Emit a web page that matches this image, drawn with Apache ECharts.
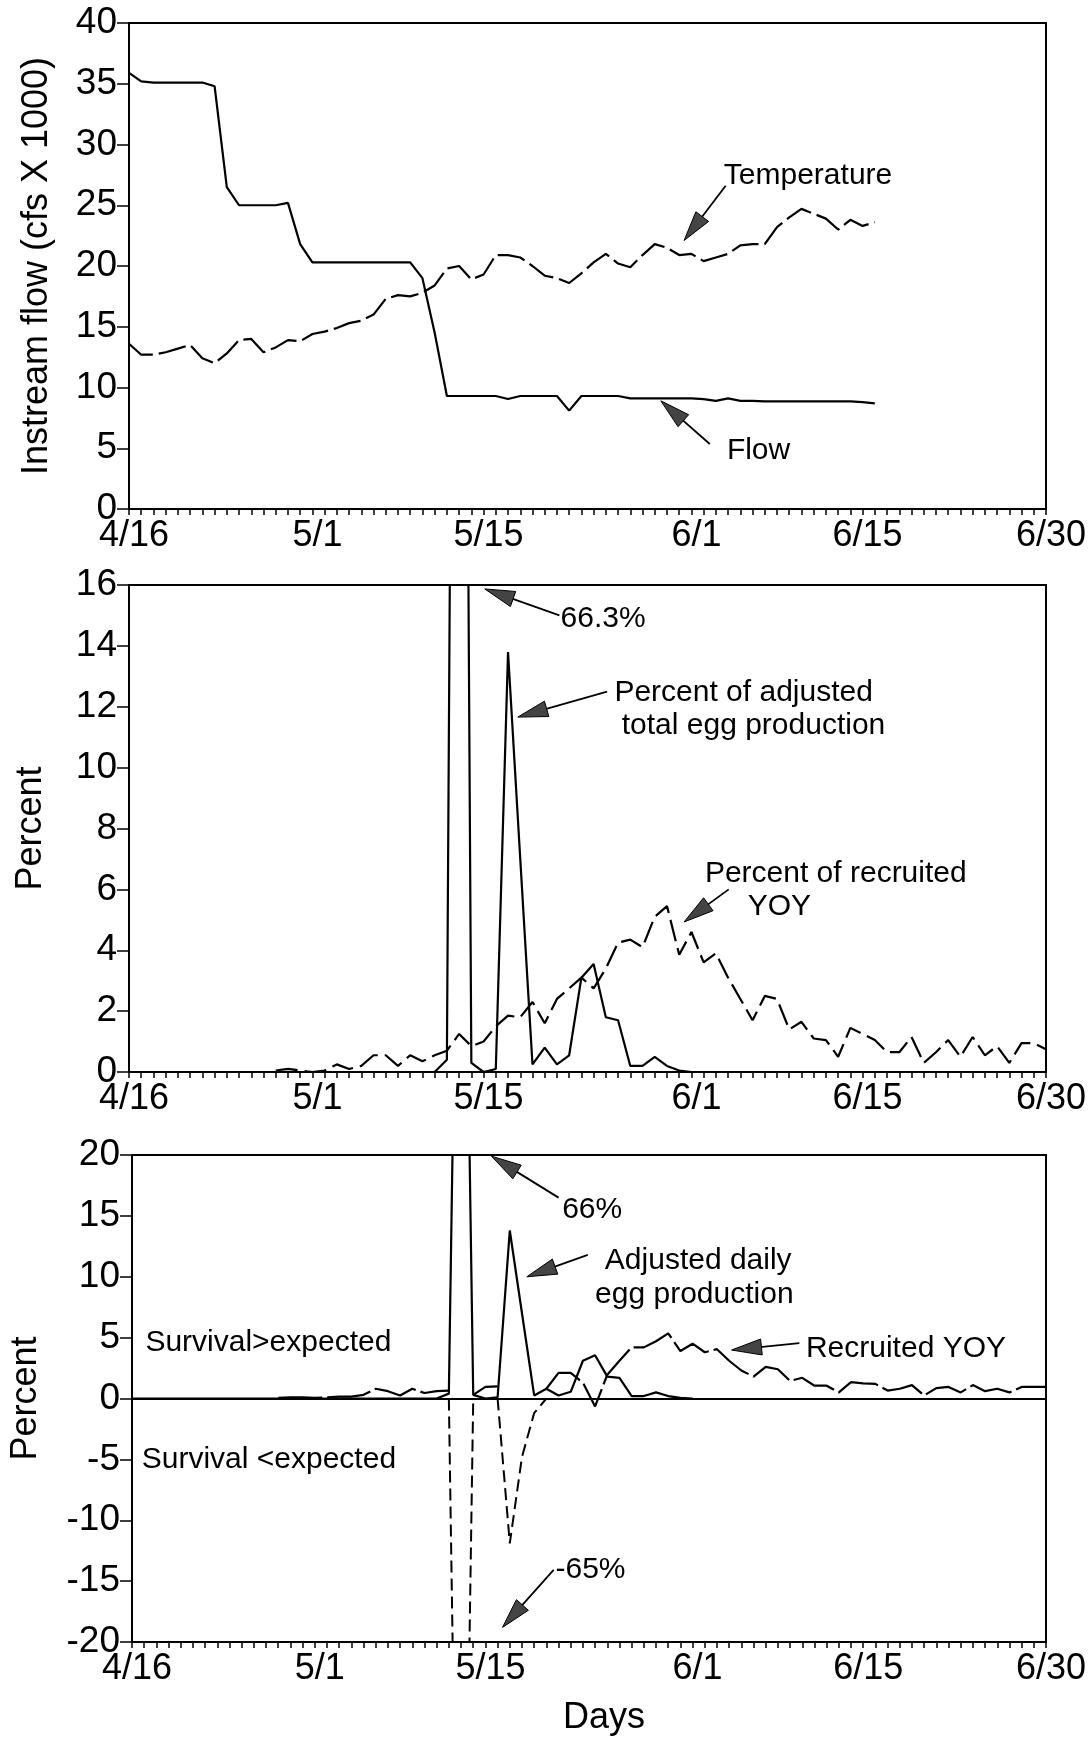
<!DOCTYPE html>
<html><head><meta charset="utf-8">
<script src="https://cdn.jsdelivr.net/npm/echarts@6/dist/echarts.min.js"></script>
<style>html,body{margin:0;padding:0;background:#fff}#c{width:1090px;height:1737px}</style>
</head><body><div id="c"></div>
<script>
// ---- data (index = day since 4/16) ----
const tickDays = [0, 15, 29, 46, 60, 75];
const tickText = ['4/16', '5/1', '5/15', '6/1', '6/15', '6/30'];

const flow = [35.9,35.2,35.1,35.1,35.1,35.1,35.1,34.8,26.5,25.0,25.0,25.0,25.0,25.2,21.8,20.3,20.3,20.3,20.3,20.3,20.3,20.3,20.3,20.3,19.0,14.5,9.3,9.3,9.3,9.3,9.3,9.05,9.3,9.3,9.3,9.3,8.1,9.3,9.3,9.3,9.3,9.1,9.1,9.1,9.1,9.1,9.1,9.05,8.9,9.1,8.9,8.9,8.85,8.85,8.85,8.85,8.85,8.85,8.85,8.85,8.8,8.7];
const temperature = [13.6,12.7,12.7,12.9,13.2,13.5,12.4,12.0,12.8,13.9,14.0,12.9,13.3,13.9,13.8,14.4,14.6,14.9,15.3,15.5,16.0,17.3,17.6,17.5,17.8,18.4,19.8,20.0,18.9,19.3,20.9,20.9,20.7,20.0,19.2,19.0,18.6,19.4,20.3,21.0,20.2,19.9,20.9,21.8,21.5,20.9,21.0,20.4,20.7,21.0,21.7,21.8,21.8,23.2,24.0,24.7,24.3,23.9,23.0,23.8,23.3,23.6];

const eggPct = [0,0,0,0,0,0,0,0,0,0,0,0,0,0,0,0,0,0,0,0,0,0,0,0,0,0,0.4,66.3,0.3,0,0.1,13.8,7.0,0.25,0.8,0.25,0.55,3.1,3.55,1.8,1.7,0.2,0.2,0.5,0.2,0.05,0];
const yoyPct = [null,null,null,null,null,null,null,null,null,null,null,null,0.05,0.1,0.05,0,0.05,0.25,0.1,0.2,0.55,0.55,0.2,0.55,0.35,0.55,0.7,1.25,0.85,1.0,1.5,1.85,1.8,2.3,1.6,2.4,2.75,3.1,2.75,3.4,4.25,4.35,4.1,5.1,5.45,3.85,4.6,3.6,3.9,3.1,2.4,1.7,2.5,2.4,1.4,1.65,1.1,1.05,0.5,1.45,1.25,1.05,0.65,0.65,1.15,0.3,0.65,1.05,0.5,1.15,0.55,0.85,0.3,0.95,0.95,0.75];

const survAbove = [null,null,null,null,null,null,null,null,null,null,null,null,0.05,0.1,0.1,0.05,0.1,0.15,0.15,0.3,0.8,0.6,0.25,0.8,0.45,0.6,0.65,null,0.3,0.95,1.0,null,null,null,0.8,2.1,2.1,1.3,-0.65,1.95,3.1,4.2,4.2,4.7,5.35,3.9,4.5,3.8,4.05,3.1,2.3,1.8,2.6,2.4,1.45,1.7,1.05,1.05,0.5,1.35,1.25,1.2,0.65,0.8,1.1,0.25,0.85,0.95,0.5,1.1,0.6,0.8,0.5,0.95,0.95,0.95];
const survBelow = [null,null,null,null,null,null,null,null,null,null,null,null,null,null,null,null,null,null,null,null,null,null,null,null,null,null,0,-65,0,null,0,-11.9,-4.8,-1.2,0];

// annotations: [grid, day, value, text, align]
const notes = [
  [0, 48.65, 27.4, 'Temperature', 'left'],
  [0, 48.9, 4.8, 'Flow', 'left'],
  [1, 35.3, 14.9, '66.3%', 'left'],
  [1, 39.7, 12.45, 'Percent of adjusted', 'left'],
  [1, 40.3, 11.38, 'total egg production', 'left'],
  [1, 47.1, 6.5, 'Percent of recruited', 'left'],
  [1, 50.6, 5.43, 'YOY', 'left'],
  [2, 35.3, 15.5, '66%', 'left'],
  [2, 38.8, 11.3, 'Adjusted daily', 'left'],
  [2, 38.0, 8.54, 'egg production', 'left'],
  [2, 55.3, 4.07, 'Recruited YOY', 'left'],
  [2, 1.1, 4.55, 'Survival>expected', 'left'],
  [2, 0.8, -5.04, 'Survival <expected', 'left'],
  [2, 34.75, -14.07, '-65%', 'left']
];
// arrows: [grid, tailDay, tailVal, tipDay, tipVal]
const arrows = [
  [0, 48.8, 26.6, 45.4, 22.1],
  [0, 47.5, 5.35, 43.5, 8.9],
  [1, 35.2, 15.0, 29.1, 15.87],
  [1, 39.1, 12.5, 31.8, 11.66],
  [1, 49.05, 6.0, 45.4, 4.93],
  [2, 35.0, 16.5, 29.5, 19.9],
  [2, 37.4, 11.8, 32.4, 10.0],
  [2, 54.76, 4.55, 49.2, 3.98],
  [2, 34.6, -14.07, 30.4, -18.8]
];

const FONT = 'Liberation Sans';
const pts = arr => arr.map((v, i) => [i, v]);
const labelMap = {};
tickDays.forEach((d, i) => labelMap[d] = tickText[i]);

function xAx(g, extra) {
  return Object.assign({
    gridIndex: g, type: 'value', min: 0, max: 75, interval: 1,
    axisLine: {onZero: false, lineStyle: {color: '#000', width: 2}},
    axisTick: {show: true, inside: false, length: 6, lineStyle: {color: '#000', width: 1.5}},
    axisLabel: {
      formatter: v => labelMap[v] ? '{t|' + labelMap[v] + '}' : '',
      rich: {t: {fontSize: 36, color: '#000', fontFamily: FONT, padding: [0, 0, 0, 10]}},
      fontSize: 36, color: '#000', fontFamily: FONT, margin: 9, showMinLabel: true, showMaxLabel: true
    },
    splitLine: {show: false}
  }, extra || {});
}
function yAx(g, min, max, interval, name, gap) {
  return {
    gridIndex: g, type: 'value', min, max, interval,
    name, nameLocation: 'middle', nameGap: gap,
    nameTextStyle: {fontSize: 36, color: '#000', fontFamily: FONT},
    axisLine: {show: true, lineStyle: {color: '#000', width: 2}},
    axisTick: {show: true, inside: false, length: 12, lineStyle: {color: '#000', width: 1.5}},
    axisLabel: {fontSize: 37, color: '#000', fontFamily: FONT, margin: 12},
    splitLine: {show: false}
  };
}
const base = {type: 'line', symbol: 'none', clip: true, silent: true, animation: false, connectNulls: false};
const solid = {color: '#000', width: 2.2, type: 'solid'};

const chart = echarts.init(document.getElementById('c'), null, {renderer: 'canvas'});
chart.setOption({
  animation: false,
  backgroundColor: '#fff',
  textStyle: {fontFamily: FONT},
  grid: [
    {left: 129, top: 23, width: 917, height: 486, show: true, borderColor: '#000', borderWidth: 2},
    {left: 129, top: 585, width: 917, height: 487, show: true, borderColor: '#000', borderWidth: 2},
    {left: 129, top: 1155, width: 917, height: 490, show: true, borderColor: '#000', borderWidth: 2}
  ],
  xAxis: [
    xAx(0), xAx(1),
    xAx(2, {name: 'Days', nameLocation: 'middle', nameGap: 58, nameTextStyle: {fontSize: 36, color: '#000', fontFamily: FONT, padding: [0, 0, 0, 30]}})
  ],
  yAxis: [
    yAx(0, 0, 40, 5, 'Instream flow (cfs X 1000)', 74),
    yAx(1, 0, 16, 2, 'Percent', 80),
    yAx(2, -20, 20, 5, 'Percent', 88)
  ],
  series: [
    Object.assign({}, base, {name: 'Flow', xAxisIndex: 0, yAxisIndex: 0, data: pts(flow), lineStyle: solid}),
    Object.assign({}, base, {name: 'Temperature', xAxisIndex: 0, yAxisIndex: 0, data: pts(temperature), lineStyle: {color: '#000', width: 2.2, type: [28, 6]}}),
    Object.assign({}, base, {name: 'Egg', xAxisIndex: 1, yAxisIndex: 1, data: pts(eggPct), lineStyle: solid}),
    Object.assign({}, base, {name: 'YOY', xAxisIndex: 1, yAxisIndex: 1, data: pts(yoyPct), lineStyle: {color: '#000', width: 2.2, type: [22, 7]}}),
    Object.assign({}, base, {name: 'EggDaily', xAxisIndex: 2, yAxisIndex: 2, data: pts(eggPct), lineStyle: solid,
      markLine: {silent: true, symbol: 'none', animation: false, label: {show: false}, lineStyle: {color: '#000', width: 2, type: 'solid'}, data: [{yAxis: 0}]}}),
    Object.assign({}, base, {name: 'RecruitedYOY', xAxisIndex: 2, yAxisIndex: 2, data: pts(survAbove), lineStyle: {color: '#000', width: 2.2, type: [44, 5]}}),
    Object.assign({}, base, {name: 'Below', xAxisIndex: 2, yAxisIndex: 2, data: pts(survBelow), lineStyle: {color: '#000', width: 2, type: [12, 6]}})
  ]
});

// annotations positioned through the chart's own coordinate systems
const gfx = [];
notes.forEach(([g, d, v, text, align]) => {
  const p = chart.convertToPixel({gridIndex: g}, [d, v]);
  gfx.push({type: 'text', x: p[0], y: p[1], silent: true,
    style: {text, fill: '#000', fontSize: 30, fontFamily: FONT, align, verticalAlign: 'middle', textAlign: align, textVerticalAlign: 'middle'}});
});
arrows.forEach(([g, sd, sv, td, tv]) => {
  const s = chart.convertToPixel({gridIndex: g}, [sd, sv]);
  const t = chart.convertToPixel({gridIndex: g}, [td, tv]);
  const dx = t[0] - s[0], dy = t[1] - s[1];
  const len = Math.hypot(dx, dy);
  const ux = dx / len, uy = dy / len;
  const L = Math.min(30, len * 0.6), w = 8;
  const bx = t[0] - ux * L, by = t[1] - uy * L;
  gfx.push({type: 'line', silent: true, shape: {x1: s[0], y1: s[1], x2: bx + ux * 4, y2: by + uy * 4}, style: {stroke: '#000', lineWidth: 1.8}});
  gfx.push({type: 'polygon', silent: true, shape: {points: [[t[0], t[1]], [bx - uy * w, by + ux * w], [bx + uy * w, by - ux * w]]}, style: {fill: '#444', stroke: '#000', lineWidth: 1}});
});
chart.setOption({graphic: gfx});
</script>
</body></html>
